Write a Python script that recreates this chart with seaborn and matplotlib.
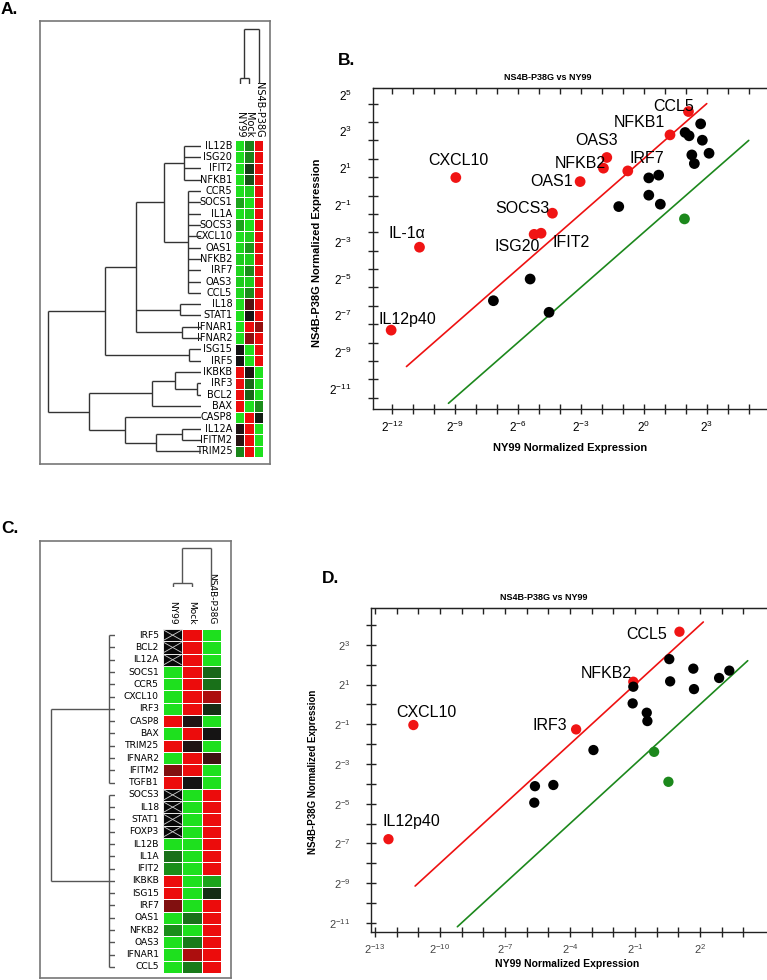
import numpy as np
import pandas as pd
import matplotlib
matplotlib.use('Agg')
import matplotlib.pyplot as plt
from matplotlib.colors import LinearSegmentedColormap
from matplotlib.collections import LineCollection
from matplotlib.patches import Rectangle
from matplotlib.transforms import ScaledTranslation
import matplotlib.ticker as mticker
import seaborn as sns

# ---------------- data ----------------
samples = ['NY99', 'Mock', 'NS4B-P38G']

# panel A heatmap (green=-1, black=0, red=+1)
genes_a = ['IL12B', 'ISG20', 'IFIT2', 'NFKB1', 'CCR5', 'SOCS1', 'IL1A', 'SOCS3',
           'CXCL10', 'OAS1', 'NFKB2', 'IRF7', 'OAS3', 'CCL5', 'IL18', 'STAT1',
           'IFNAR1', 'IFNAR2', 'ISG15', 'IRF5', 'IKBKB', 'IRF3', 'BCL2', 'BAX',
           'CASP8', 'IL12A', 'IFITM2', 'TRIM25']
ny99_a = [-1, -1, -1, -1, -1, -0.7, -1, -0.7, -1, -0.95, -0.9, -0.95, -0.9, -0.95,
          -1, -1, -1, -1, 0, 0, 1, 1, 1, 1, -1, 0.05, 0.1, -0.55]
mock_a = [-0.55, -0.55, -0.2, -0.3, -0.9, -1, -0.9, -1, -0.9, -0.65, -0.9, -0.6, -0.9, -0.6,
          0.3, 0, 1, 0.55, -1, -1, 0.05, -0.4, -0.4, -1, 1, 1, 1, 1]
ns4b_a = [1, 1, 1, 1, 1, 1, 1, 1, 1, 1, 1, 1, 1, 1,
          1, 1, 0.6, 1, 1, 1, -1, -1, -1, -0.6, -0.05, -1, -1, -1]

# row tree for A: (merge distance, [children])
g1 = (17, ['IL12B', 'ISG20', 'IFIT2', 'NFKB1'])
g2 = (13, ['CCR5', 'SOCS1', 'IL1A', 'SOCS3', 'CXCL10', 'OAS1', 'NFKB2', 'IRF7', 'OAS3', 'CCL5'])
top_a = (96, [(65, [(37, [g1, g2]), (21, ['IL18', 'STAT1']), (19, ['IFNAR1', 'IFNAR2'])]),
              (12, ['ISG15', 'IRF5'])])
bot_a = (112, [(49, [(26, ['IKBKB', (4, ['IRF3', 'BCL2'])]), 'BAX']),
               (76, ['CASP8', (45, [(19, ['IL12A', 'IFITM2']), 'TRIM25'])])])
tree_rows_a = (153, [top_a, bot_a])
tree_cols_a = (55, [(6, ['NY99', 'Mock']), 'NS4B-P38G'])

# panel C heatmap (nan = no value)
genes_c = ['IRF5', 'BCL2', 'IL12A', 'SOCS1', 'CCR5', 'CXCL10', 'IRF3', 'CASP8', 'BAX',
           'TRIM25', 'IFNAR2', 'IFITM2', 'TGFB1', 'SOCS3', 'IL18', 'STAT1', 'FOXP3',
           'IL12B', 'IL1A', 'IFIT2', 'IKBKB', 'ISG15', 'IRF7', 'OAS1', 'NFKB2', 'OAS3',
           'IFNAR1', 'CCL5']
nan = np.nan
ny99_c = [nan, nan, nan, -1, -1, -1, -1, 1, -1, 1, -1, 0.5, 1,
          nan, nan, nan, nan, -1, -0.45, -0.6, 1, 1, 0.5, -1, -0.6, -1, -1, -1]
mock_c = [1, 1, 1, 1, 1, 1, 1, 0.05, 1, 0.05, 1, 1, 0,
          -1, -1, -1, -1, -1, -1, -1, -1, -1, -1, -0.45, -1, -0.5, 0.7, -0.5]
ns4b_c = [-1, -1, -1, -0.4, -0.45, 0.7, -0.12, -1, 0, -1, 0.2, -1, -1,
          1, 1, 1, 1, 1, 1, 1, -0.7, -0.12, 1, 1, 1, 1, 1, 1]
tree_rows_c = (64, [(6, genes_c[:13]), (6, genes_c[13:])])
tree_cols_c = (39, [(4, ['NY99', 'Mock']), 'NS4B-P38G'])

# panel B scatter (log2 values)
b_red_names = ['CCL5', 'NFKB1', 'OAS3', 'NFKB2', 'IRF7', 'CXCL10', 'OAS1', 'SOCS3',
               'ISG20', 'IFIT2', 'IL-1\u03b1', 'IL12p40']
b_red_x = [2.13, 1.25, -1.76, -1.92, -0.76, -8.95, -3.03, -4.35, -5.22, -4.89, -10.68, -12.03]
b_red_y = [4.57, 3.30, 2.07, 1.49, 1.34, 0.98, 0.76, -0.96, -2.11, -2.05, -2.81, -7.32]
b_black_x = [2.71, 1.97, 2.16, 2.79, 2.29, 3.11, 2.41, 0.24, 0.71, 0.24, 0.79, -1.19,
             -5.41, -7.16, -4.51]
b_black_y = [3.90, 3.43, 3.25, 3.01, 2.21, 2.30, 1.74, 0.96, 1.11, 0.02, -0.47, -0.60,
             -4.54, -5.72, -6.35]
b_green_x = [1.94]
b_green_y = [-1.27]
b_label_off = [(-15, 5), (-31, 12), (-10, 17), (-23, 5), (19, 12), (3, 17), (-29, 0),
               (-30, 5), (-17, -12), (30, -9), (-13, 14), (16, 11)]
b_red_line = [-11.3, 3.0]
b_green_line = [-9.3, 5.0]
b_xticks = list(range(-12, 6))
b_yticks = list(range(-11, 6))
b_xlabels = [-12, -9, -6, -3, 0, 3]
b_ylabels = [-11, -9, -7, -5, -3, -1, 1, 3, 5]

# panel D scatter
d_red_names = ['CCL5', 'NFKB2', 'CXCL10', 'IRF3', 'IL12p40']
d_red_x = [1.05, -1.08, -11.23, -3.72, -12.38]
d_red_y = [3.66, 1.14, -1.04, -1.26, -6.79]
d_black_x = [0.58, 1.69, 3.35, 2.88, 0.62, 1.72, -1.08, -1.11, -0.46, -0.43, -2.92,
             -5.62, -4.77, -5.65]
d_black_y = [2.28, 1.80, 1.70, 1.33, 1.16, 0.77, 0.89, 0.05, -0.42, -0.84, -2.30,
             -4.12, -4.06, -4.95]
d_green_x = [-0.12, 0.54]
d_green_y = [-2.39, -3.90]
d_label_off = [(-33, -3), (-27, 8), (13, 13), (-26, 4), (23, 18)]
d_red_line = [-11.15, 2.15]
d_green_line = [-9.2, 4.2]
d_xticks = list(range(-13, 5))
d_yticks = list(range(-11, 5))
d_xlabels = [-13, -10, -7, -4, -1, 2]
d_ylabels = [-11, -9, -7, -5, -3, -1, 1, 3]
fold = 2

# ---------------- style ----------------
sns.set_style('white')
plt.rcParams['font.family'] = ['Liberation Sans', 'DejaVu Sans']
plt.rcParams['mathtext.fontset'] = 'custom'
plt.rcParams['mathtext.rm'] = 'Liberation Sans'
plt.rcParams['mathtext.it'] = 'Liberation Sans:italic'
plt.rcParams['mathtext.bf'] = 'Liberation Sans:bold'
plt.rcParams['text.color'] = 'black'
plt.rcParams['axes.labelcolor'] = 'black'
plt.rcParams['xtick.color'] = 'black'
plt.rcParams['ytick.color'] = 'black'

W, H = 767, 980
fig = plt.figure(figsize=(W / 100, H / 100), dpi=100)
fig.patch.set_facecolor('white')


def px_axes(x0, y0, x1, y1):
    return fig.add_axes([x0 / W, 1 - y1 / H, (x1 - x0) / W, (y1 - y0) / H])


cmap = LinearSegmentedColormap.from_list('gbr', [(0, '#1ee01e'), (0.5, '#141414'), (1, '#ec0c0c')])


def dendro_segments(node, leaf_pos):
    if isinstance(node, str):
        return leaf_pos[node], 0.0, []
    h, kids = node
    segs, ps = [], []
    for k in kids:
        p, kh, s = dendro_segments(k, leaf_pos)
        segs += s
        segs.append([(p, kh), (p, h)])
        ps.append(p)
    segs.append([(min(ps), h), (max(ps), h)])
    return (min(ps) + max(ps)) / 2, h, segs


def draw_dendro(ax, tree, leaves, orient, color):
    pos = {name: i + 0.5 for i, name in enumerate(leaves)}
    _, _, segs = dendro_segments(tree, pos)
    if orient == 'left':
        segs = [[(h, p) for p, h in s] for s in segs]
    ax.add_collection(LineCollection(segs, colors=color, linewidths=1.0))
    ax.axis('off')


def frame(ax):
    ax.set_xticks([])
    ax.set_yticks([])
    for s in ax.spines.values():
        s.set_color('#777777')
        s.set_linewidth(1.2)


def heat_panel(box, hm_box, rd_box, cd_box, genes, cols, tree_r, tree_c, rmax, cmax,
               row_font, row_size, col_font, col_size, row_pad, col_pad, dcolor):
    fr = px_axes(*box)
    frame(fr)
    df = pd.DataFrame({s: v for s, v in zip(samples, cols)}, index=genes)
    ax = px_axes(*hm_box)
    sns.heatmap(df, ax=ax, cmap=cmap, vmin=-1, vmax=1, cbar=False, linewidths=0.6,
                linecolor='white', xticklabels=True, yticklabels=True)
    ax.set_xlabel('')
    ax.set_ylabel('')
    ax.xaxis.tick_top()
    ax.set_xticklabels(samples, rotation=270, fontsize=col_size, family=col_font,
                       va='bottom', ha='center')
    ax.set_yticklabels(genes, rotation=0, fontsize=row_size, family=row_font)
    ax.tick_params(axis='x', length=0, pad=col_pad)
    ax.tick_params(axis='y', length=0, pad=row_pad)
    vals = df.to_numpy()
    for i in range(vals.shape[0]):
        for j in range(vals.shape[1]):
            if np.isnan(vals[i, j]):
                ax.add_patch(Rectangle((j, i), 1, 1, facecolor='#080808',
                                       edgecolor='white', lw=0.6))
                ax.plot([j + 0.05, j + 0.95], [i + 0.1, i + 0.9], color='#cfcfcf', lw=0.6)
                ax.plot([j + 0.05, j + 0.95], [i + 0.9, i + 0.1], color='#cfcfcf', lw=0.6)
    rd = px_axes(*rd_box)
    draw_dendro(rd, tree_r, genes, 'left', dcolor)
    rd.set_xlim(rmax, 0)
    rd.set_ylim(len(genes), 0)
    cd = px_axes(*cd_box)
    draw_dendro(cd, tree_c, samples, 'top', dcolor)
    cd.set_xlim(0, 3)
    cd.set_ylim(0, cmax)


narrow = ['Liberation Sans Narrow', 'DejaVu Sans']
heat_panel((40, 21, 270, 464), (235, 140, 263.3, 457), (44, 140, 201, 457),
           (235, 25, 263.3, 84), genes_a, [ny99_a, mock_a, ns4b_a], tree_rows_a,
           tree_cols_a, 157, 59, narrow, 7, narrow, 7, 2, 2, '#333333')
heat_panel((40, 541, 231, 978), (163, 629, 221, 973), (44, 629, 115, 973),
           (163, 545, 221, 587), genes_c, [ny99_c, mock_c, ns4b_c], tree_rows_c,
           tree_cols_c, 71, 42, ['DejaVu Sans'], 6.6, narrow, 6.5, 3, 3, '#555555')


def scatter_panel(ax, rx, ry, names, offs, kx, ky, gx, gy, red_line, green_line,
                  xticks, yticks, xlabs, ylabs, xlim, ylim, tick_size, tick_color, s, ypad):
    df = pd.DataFrame({
        'x': list(rx) + list(kx) + list(gx),
        'y': list(ry) + list(ky) + list(gy),
        'group': ['up'] * len(rx) + ['same'] * len(kx) + ['down'] * len(gx),
    })
    ax.plot(red_line, [v + fold for v in red_line], color='#ee1111', lw=1.2, zorder=2)
    ax.plot(green_line, [v - fold for v in green_line], color='#1c881c', lw=1.2, zorder=2)
    sns.scatterplot(data=df, x='x', y='y', hue='group', ax=ax, s=s, linewidth=0,
                    palette={'up': '#f01414', 'same': '#000000', 'down': '#1c881c'},
                    legend=False, zorder=3)
    for n, x, y, (dx, dy) in zip(names, rx, ry, offs):
        ax.annotate(n, (x, y), xytext=(dx * 0.72, dy * 0.72), textcoords='offset points',
                    ha='center', va='center', fontsize=11.5, zorder=4)
    ax.set_xlim(*xlim)
    ax.set_ylim(*ylim)
    ax.set_xlabel('')
    ax.set_ylabel('')
    ax.xaxis.set_major_locator(mticker.FixedLocator(xticks))
    ax.yaxis.set_major_locator(mticker.FixedLocator(yticks))
    fmt = lambda labs: mticker.FuncFormatter(
        lambda v, _: f'$2^{{{int(round(v))}}}$' if int(round(v)) in labs else '')
    ax.xaxis.set_major_formatter(fmt(xlabs))
    ax.yaxis.set_major_formatter(fmt(ylabs))
    ax.tick_params(bottom=True, left=True, direction='inout', length=7, width=1,
                   color='#222222', labelsize=tick_size, labelcolor=tick_color)
    ax.tick_params(axis='x', pad=4)
    ax.tick_params(axis='y', pad=ypad)
    sec = ax.secondary_xaxis('top')
    sec.xaxis.set_major_locator(mticker.FixedLocator(xticks))
    sec.tick_params(top=True, direction='in', length=4, width=1, color='#222222',
                    labeltop=False)
    sec.spines['top'].set_color('#222222')
    for side in ['left', 'bottom', 'top']:
        ax.spines[side].set_color('#222222')
        ax.spines[side].set_linewidth(1)
    ax.spines['right'].set_visible(False)
    ax.grid(False)


ax_b = px_axes(373.3, 88, 767, 409)
scatter_panel(ax_b, b_red_x, b_red_y, b_red_names, b_label_off, b_black_x, b_black_y,
              b_green_x, b_green_y, b_red_line, b_green_line, b_xticks, b_yticks,
              b_xlabels, b_ylabels, (-12.88, 5.87), (-11.61, 5.85), 8.5, 'black', 60, 12)
for lbl in ax_b.get_yticklabels():
    lbl.set_transform(lbl.get_transform() + ScaledTranslation(0, 6.5 / 72, fig.dpi_scale_trans))

ax_d = px_axes(370.7, 607.7, 767, 931.7)
scatter_panel(ax_d, d_red_x, d_red_y, d_red_names, d_label_off, d_black_x, d_black_y,
              d_green_x, d_green_y, d_red_line, d_green_line, d_xticks, d_yticks,
              d_xlabels, d_ylabels, (-13.2, 5.09), (-11.45, 4.87), 8, '#444444', 55, 11)

# titles and axis labels
fig.text(548 / W, 1 - 77 / H, 'NS4B-P38G vs NY99', ha='center', va='center',
         fontsize=6.5, fontweight='bold')
fig.text(544 / W, 1 - 597 / H, 'NS4B-P38G vs NY99', ha='center', va='center',
         fontsize=6.5, fontweight='bold')
fig.text(570 / W, 1 - 448 / H, 'NY99 Normalized Expression', ha='center', va='center',
         fontsize=8, fontweight='bold')
fig.text(567 / W, 1 - 964 / H, 'NY99 Normalized Expression', ha='center', va='center',
         fontsize=7.5, fontweight='bold')
fig.text(316.5 / W, 1 - 253 / H, 'NS4B-P38G Normalized Expression', ha='center',
         va='center', rotation=90, fontsize=8, fontweight='bold')
fig.text(313.5 / W, 1 - 772 / H, 'NS4B-P38G Normalized Expression', ha='center',
         va='center', rotation=90, fontsize=7, fontweight='bold')

for letter, x, y in [('A.', 1, 2), ('B.', 338, 53), ('C.', 1, 521), ('D.', 322, 571)]:
    fig.text(x / W, 1 - y / H, letter, ha='left', va='top', fontsize=12.5, fontweight='bold')

fig.savefig('out.png', dpi=100, facecolor='white')
